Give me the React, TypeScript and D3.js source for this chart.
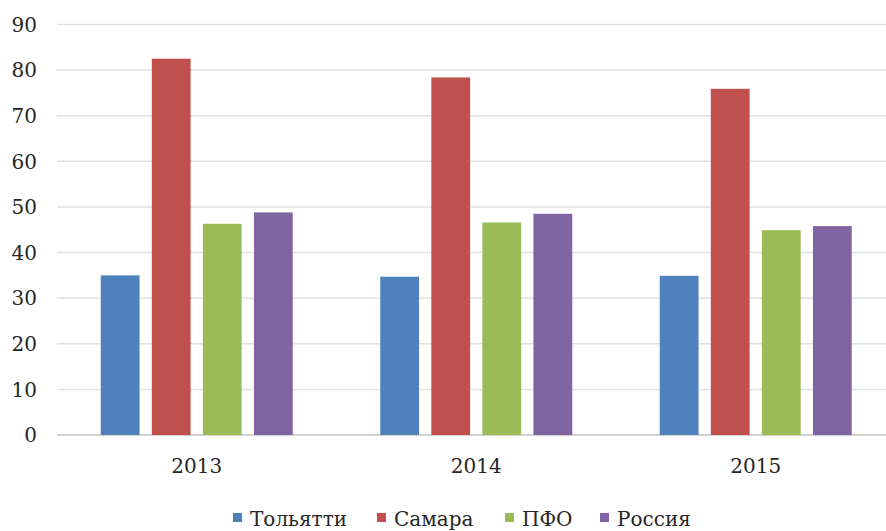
import * as d3 from "d3";
import { useEffect, useRef } from "react";

const years = ["2013", "2014", "2015"];
const seriesNames = ["Тольятти", "Самара", "ПФО", "Россия"];
const tolyatti = [35, 34.7, 34.9];
const samara = [82.5, 78.4, 75.9];
const pfo = [46.3, 46.6, 44.9];
const russia = [48.8, 48.5, 45.8];
const yTicks = [0, 10, 20, 30, 40, 50, 60, 70, 80, 90];
const colors = ["#4f81bd", "#c0504d", "#9bbb59", "#8064a2"];

const App = () => {
  const ref = useRef(null);

  useEffect(() => {
    var width = 886;
    var height = 531;
    // Times-like face; Liberation Serif did not show up in the sandbox
    var font = "DejaVu Serif, Liberation Serif, serif";

    var svg = d3
      .select(ref.current)
      .append("svg")
      .attr("width", width)
      .attr("height", height)
      .attr("font-family", font)
      .attr("font-size", 20)
      .style("display", "block")
      .style("background", "#fff");

    var values = [tolyatti, samara, pfo, russia];

    var x0 = d3.scaleBand().domain(years).range([57, 895.5]);
    var x1 = d3
      .scaleBand()
      .domain(seriesNames)
      .range([43.75, 235.75])
      .paddingInner(0.24);
    var y = d3.scaleLinear().domain([0, 90]).range([435, 24.5]);

    // gridlines
    svg
      .selectAll("grid")
      .data(yTicks)
      .enter()
      .append("line")
      .attr("x1", 57)
      .attr("x2", 895.5)
      .attr("y1", (d) => y(d))
      .attr("y2", (d) => y(d))
      .attr("stroke", (d) => (d === 0 ? "#c4c4c4" : "#e2e2e2"))
      .attr("stroke-width", 1.5);

    // y labels
    svg
      .selectAll("ylab")
      .data(yTicks)
      .enter()
      .append("text")
      .attr("x", 37)
      .attr("y", (d) => y(d))
      .attr("dy", "0.36em")
      .attr("text-anchor", "end")
      .attr("fill", "#262626")
      .text((d) => d);

    // bars
    var g = svg
      .selectAll("groups")
      .data(years)
      .enter()
      .append("g")
      .attr("transform", (d) => "translate(" + x0(d) + ",0)");

    g.selectAll("rect")
      .data((d, i) => seriesNames.map((s, j) => ({ s: s, v: values[j][i], j: j })))
      .enter()
      .append("rect")
      .attr("x", (d: any) => x1(d.s) as number)
      .attr("width", x1.bandwidth())
      .attr("y", (d: any) => y(d.v))
      .attr("height", (d: any) => y(0) - y(d.v))
      .attr("fill", (d: any) => colors[d.j]);

    // x labels
    svg
      .selectAll("xlab")
      .data(years)
      .enter()
      .append("text")
      .attr("x", (d) => (x0(d) as number) + x1(seriesNames[0])! + 96)
      .attr("y", 473)
      .attr("text-anchor", "middle")
      .attr("fill", "#262626")
      .text((d) => d);

    // legend
    var legendX = [233, 377, 505, 600];
    var lg = svg
      .selectAll("legend")
      .data(seriesNames)
      .enter()
      .append("g")
      .attr("transform", (d, i) => "translate(" + legendX[i] + ",0)");
    lg.append("rect")
      .attr("x", 0)
      .attr("y", 513)
      .attr("width", 9)
      .attr("height", 9)
      .attr("fill", (d, i) => colors[i]);
    lg.append("text")
      .attr("x", 17)
      .attr("y", 526)
      .attr("fill", "#262626")
      .text((d) => d);

    return function () {
      svg.remove();
    };
  }, []);

  return (
    <div
      ref={ref}
      style={{ position: "fixed", left: 0, top: 0, width: 886, height: 531, overflow: "hidden" }}
    />
  );
};

export default App;
